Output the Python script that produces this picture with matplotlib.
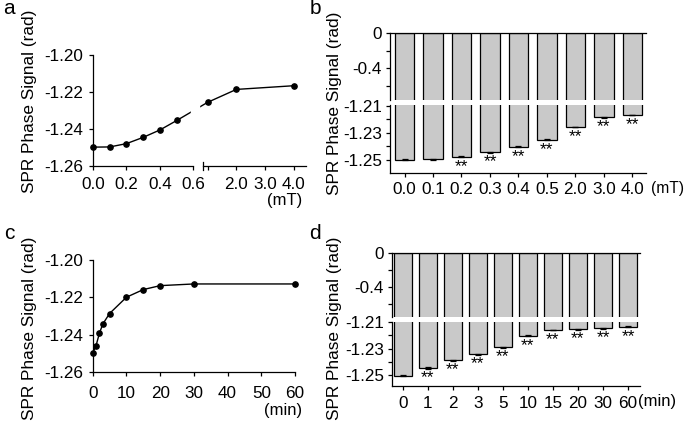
import numpy as np
import matplotlib
matplotlib.use('Agg')
import matplotlib.pyplot as plt

plt.rcParams['font.family'] = ['Liberation Sans', 'DejaVu Sans']
plt.rcParams['axes.unicode_minus'] = False
plt.rcParams['font.size'] = 12

# ---------------- data ----------------
a_x = [0.0, 0.1, 0.2, 0.3, 0.4, 0.5, 1.0, 2.0, 4.0]
a_y = [-1.2498, -1.2497, -1.2479, -1.2445, -1.2405, -1.2354, -1.2256, -1.2186, -1.2166]
a_xticks = [0.0, 0.2, 0.4, 0.6, 1.0, 2.0, 3.0, 4.0]
a_xticklabels = ['0.0', '0.2', '0.4', '0.6', '', '2.0', '3.0', '4.0']
line_yticks = [-1.20, -1.22, -1.24, -1.26]

b_labels = ['0.0', '0.1', '0.2', '0.3', '0.4', '0.5', '2.0', '3.0', '4.0']
b_vals = [-1.2498, -1.2497, -1.2476, -1.2443, -1.2404, -1.2352, -1.2256, -1.2184, -1.2167]
b_err = [0.0003, 0.0002, 0.0004, 0.0004, 0.0004, 0.0003, 0.0003, 0.0003, 0.0003]
b_sig = ['', '', '**', '**', '**', '**', '**', '**', '**']

c_x = [0, 1, 2, 3, 5, 10, 15, 20, 30, 60]
c_y = [-1.2498, -1.2457, -1.2391, -1.2342, -1.2286, -1.2199, -1.2158, -1.2137, -1.2128, -1.2128]
c_xticks = [0, 10, 20, 30, 40, 50, 60]

d_labels = ['0', '1', '2', '3', '5', '10', '15', '20', '30', '60']
d_vals = [-1.2505, -1.2446, -1.2389, -1.2344, -1.2290, -1.2204, -1.2161, -1.2154, -1.2147, -1.2137]
d_err = [0.0003, 0.0004, 0.0004, 0.0003, 0.0003, 0.0003, 0.0003, 0.0003, 0.0003, 0.0003]
d_sig = ['', '**', '**', '**', '**', '**', '**', '**', '**', '**']

top_ticks = [0, -0.4]
top_ticklabels = ['0', '-0.4']
top_minor = [-0.2, -0.6]
bot_ticks = [-1.21, -1.23, -1.25]
bot_minor = [-1.22, -1.24]

YLABEL = 'SPR Phase Signal (rad)'

# ---------------- layout helpers ----------------
W, H = 685, 425
fig = plt.figure(figsize=(W / 100, H / 100), dpi=100)
LW = 0.9
BAR_COLOR = '#c9c9c9'


def rect(l, t, r, b):
    return [l / W, 1 - b / H, (r - l) / W, (b - t) / H]


def style(ax, spines=('left', 'bottom'), xpad=4, ypad=4):
    for s in ['left', 'right', 'top', 'bottom']:
        ax.spines[s].set_visible(s in spines)
        ax.spines[s].set_linewidth(LW)
    ax.tick_params(which='both', direction='out', length=2.6, width=LW,
                   labelsize=12.3, colors='k')
    ax.tick_params(axis='x', pad=xpad)
    ax.tick_params(axis='y', pad=ypad)


def ftext(x, y, s, **kw):
    fig.text(x / W, 1 - y / H, s, **kw)


# ---------------- panel a (broken x axis line) ----------------
XK = [-1.0, 0.0, 0.6, 1.0, 4.0, 8.0]
UK = [-167.0, 0.0, 100.0, 114.0, 200.0, 314.0]
axa = fig.add_axes(rect(93, 55, 306, 166))
axa.set_xscale('function', functions=(lambda x: np.interp(x, XK, UK),
                                      lambda u: np.interp(u, UK, XK)))
axa.plot(a_x, a_y, '-o', color='k', lw=1.0, ms=3.8, clip_on=False, zorder=3)
axa.axvspan(0.585, 0.75, ymin=0.3, ymax=0.7, color='white', zorder=4)
axa.set_xlim(0, 4.42)
axa.set_ylim(-1.26, -1.20)
style(axa, xpad=5.3, ypad=4.2)
axa.spines['bottom'].set_bounds(0, 0.6)
tr = axa.get_xaxis_transform()
axa.plot([0.863, 4.42], [0, 0], transform=tr, color='k', lw=LW, clip_on=False)
axa.plot([0.863, 0.863], [-0.035, 0.035], transform=tr, color='k', lw=LW, clip_on=False)
axa.set_xticks(a_xticks)
axa.set_xticklabels(a_xticklabels)
axa.minorticks_off()
axa.set_yticks(line_yticks)
axa.set_yticklabels(['%.2f' % v for v in line_yticks])
ftext(302, 200, '(mT)', ha='right', va='center', fontsize=12)


# ---------------- broken bar panels ----------------
def broken_bars(top_px, bot_px, labels, vals, errs, sig, top_lim, bot_lim,
                xlim, width, xpad):
    x = np.arange(len(vals))
    axt = fig.add_axes(rect(*top_px))
    axb = fig.add_axes(rect(*bot_px))
    for ax in (axt, axb):
        ax.bar(x, vals, width, color=BAR_COLOR, edgecolor='k', lw=LW, zorder=2)
        ax.set_xlim(*xlim)
    axb.errorbar(x, vals, yerr=errs, fmt='none', ecolor='k', elinewidth=LW,
                 capsize=2.5, capthick=LW, zorder=3)
    for xi, v, e, s in zip(x, vals, errs, sig):
        if s:
            axb.annotate(s, (xi, v - e), xytext=(0, -1.2), textcoords='offset points',
                         ha='center', va='top', fontsize=12.5)
    axt.set_ylim(*top_lim)
    axb.set_ylim(*bot_lim)
    style(axt, spines=('left', 'top'), ypad=3.2)
    style(axb, spines=('left', 'bottom'), xpad=xpad, ypad=3.2)
    axt.tick_params(axis='x', which='both', top=False, bottom=False,
                    labeltop=False, labelbottom=False)
    axt.set_yticks(top_ticks)
    axt.set_yticklabels(top_ticklabels)
    axt.set_yticks(top_minor, minor=True)
    axb.set_yticks(bot_ticks)
    axb.set_yticklabels(['%.2f' % v for v in bot_ticks])
    axb.set_yticks(bot_minor, minor=True)
    axb.set_xticks(x)
    axb.set_xticklabels(labels)
    return axt, axb


broken_bars((390, 33.3, 645.5, 100), (390, 105, 645.5, 173.3), b_labels, b_vals,
            b_err, b_sig, (-0.762, 0), (-1.2600, -1.2093), (-0.51, 8.46), 0.68, 3.9)
ftext(651, 188, '(mT)', ha='left', va='center', fontsize=11.2)

broken_bars((391.7, 252.7, 640, 316.7), (391.7, 321.7, 640, 385.7), d_labels, d_vals,
            d_err, d_sig, (-0.755, 0), (-1.2579, -1.2098), (-0.444, 9.48), 0.70, 4.8)
ftext(638, 401.7, '(min)', ha='left', va='center', fontsize=12)

# ---------------- panel c ----------------
axc = fig.add_axes(rect(92.7, 260, 295, 372.3))
axc.plot(c_x, c_y, '-o', color='k', lw=1.0, ms=3.8, clip_on=False, zorder=3)
axc.set_xlim(0, 60)
axc.set_ylim(-1.26, -1.20)
style(axc, xpad=7.3, ypad=4.2)
axc.set_xticks(c_xticks)
axc.set_yticks(line_yticks)
axc.set_yticklabels(['%.2f' % v for v in line_yticks])
ftext(302, 410, '(min)', ha='right', va='center', fontsize=12)

# ---------------- labels ----------------
for (x, y) in [(29.5, 101.5), (335, 103), (29.5, 328), (335, 328)]:
    ftext(x, y, YLABEL, rotation=90, ha='center', va='center', fontsize=12.4)

for (x, y, s) in [(9, 8, 'a'), (315, 8, 'b'), (9, 234, 'c'), (315, 234, 'd')]:
    ftext(x, y, s, ha='center', va='center', fontsize=15)

fig.savefig('out.png', dpi=100)
